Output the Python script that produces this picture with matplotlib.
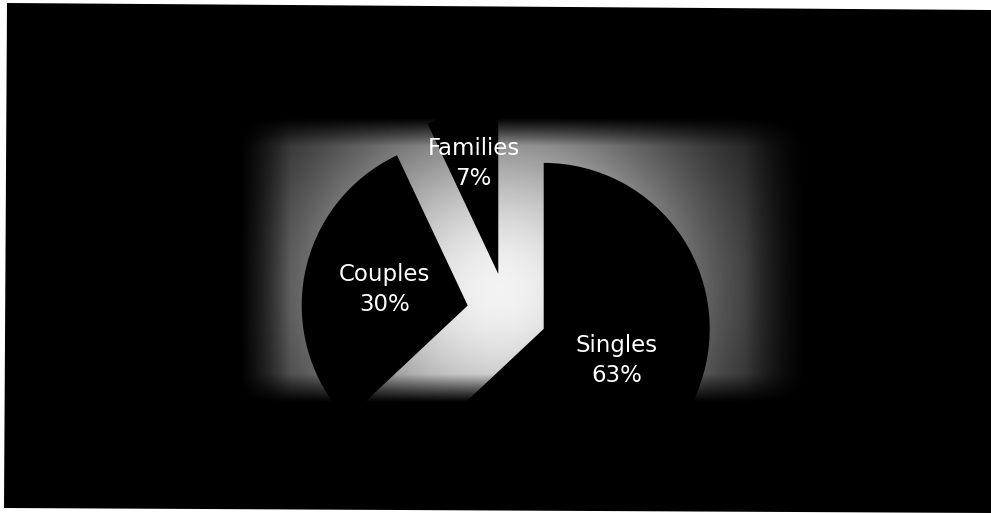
import numpy as np
import matplotlib
matplotlib.use("Agg")
import matplotlib.pyplot as plt
from matplotlib.patches import Polygon

# data
labels = ["Families", "Couples", "Singles"]
shares = [7, 30, 63]
label_dist = [0.68, 0.51, 0.48]

W, H = 991, 513
fig = plt.figure(figsize=(W / 100, H / 100), dpi=100, facecolor="white")
ax = fig.add_axes([0, 0, 1, 1])

# scanned black page with a ragged white border
frame = Polygon([(7, H - 3), (W, H - 10), (W, 0), (4, 5)], closed=True,
                facecolor="black", edgecolor="none", zorder=-2)
ax.add_patch(frame)

# soft grey glow behind the pie (plot area gradient)
gx0, gx1, gy0, gy1 = 240, 805, 118, 402
xs = np.arange(gx0, gx1) + 0.5
ys = np.arange(gy0, gy1) + 0.5
X, Y = np.meshgrid(xs, ys)
dist = np.hypot((X - 500) * 0.95, Y - 290)
glow = 0.95 * np.exp(-(dist / 205) ** 2)
fade = (np.clip((X - gx0) / 50, 0, 1) * np.clip((gx1 - X) / 60, 0, 1)
        * np.clip((Y - gy0) / 28, 0, 1) * np.clip((gy1 - Y) / 28, 0, 1))
ax.imshow(glow * fade, cmap="gray", vmin=0, vmax=1, origin="upper",
          extent=(gx0, gx1, H - gy1, H - gy0), interpolation="bilinear",
          zorder=0, aspect="auto")

r = 166
off = 40
wedges, _ = ax.pie(shares, colors=["black"] * 3, startangle=90,
                   counterclock=True, explode=[off] * 3, radius=r,
                   center=(507, H - 313), wedgeprops=dict(linewidth=0))
for w in wedges:
    w.set_zorder(1)

for w, name, val, d in zip(wedges, labels, shares, label_dist):
    mid = np.deg2rad((w.theta1 + w.theta2) / 2)
    cx, cy = w.center
    ax.text(cx + d * r * np.cos(mid), cy + d * r * np.sin(mid),
            f"{name}\n{val}%", color="white", fontsize=16.5,
            ha="center", va="center", linespacing=1.4, zorder=3)

ax.set_xlim(0, W)
ax.set_ylim(0, H)
ax.set_aspect("auto")
ax.axis("off")

fig.savefig("out.png", dpi=100, facecolor="white")
